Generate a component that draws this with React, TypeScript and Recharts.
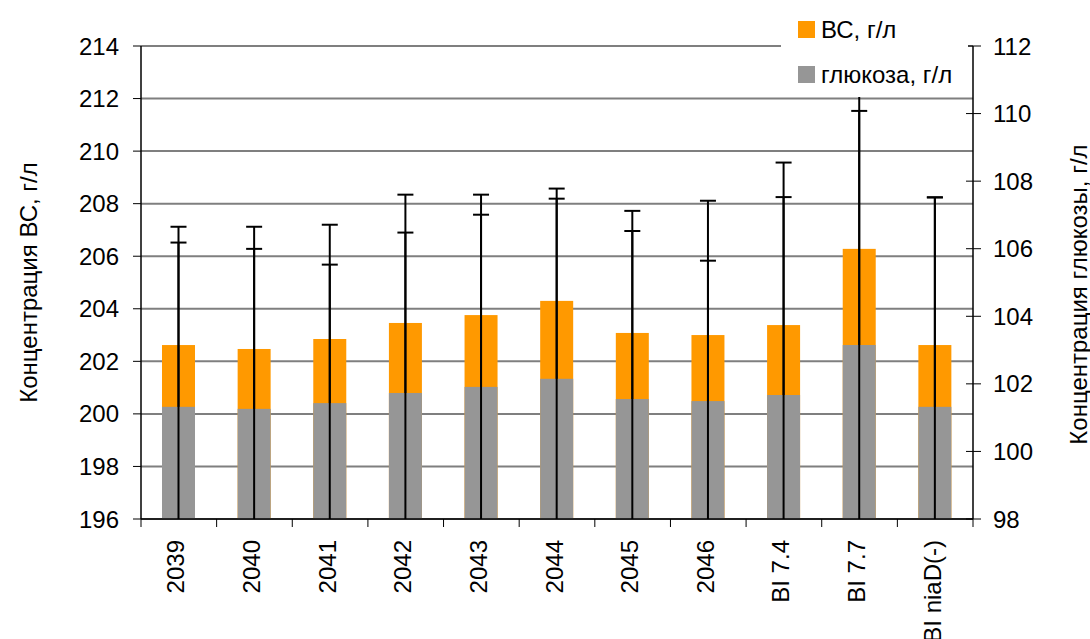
import React from 'react';
import { BarChart, Bar, XAxis, YAxis, CartesianGrid, Legend } from 'recharts';

const categories = ['2039', '2040', '2041', '2042', '2043', '2044', '2045', '2046', 'BI 7.4', 'BI 7.7', 'BI niaD(-)'];
const bcValues = [202.62, 202.47, 202.85, 203.46, 203.76, 204.3, 203.08, 203.0, 203.38, 206.28, 202.62];
const bcErrors = [3.9, 3.81, 2.83, 3.44, 3.82, 3.89, 3.88, 2.83, 4.87, 5.25, 5.62];
const glucoseValues = [101.32, 101.26, 101.43, 101.73, 101.91, 102.15, 101.55, 101.49, 101.67, 103.15, 101.32];
const glucoseErrors = [5.33, 5.39, 5.28, 5.87, 5.69, 5.63, 5.57, 5.93, 6.88, 8.35, 6.2];
const bcTicks = [196, 198, 200, 202, 204, 206, 208, 210, 212, 214];
const glucoseTicks = [98, 100, 102, 104, 106, 108, 110, 112];

const data = categories.map((name, i) => ({
  name,
  bc: bcValues[i],
  bcErr: bcErrors[i],
  glucose: glucoseValues[i],
  glucoseErr: glucoseErrors[i],
}));

const FONT = '"Liberation Sans", Arial, sans-serif';
const ORANGE = '#FF9900';
const GREY = '#969696';
const WIDTH = 1090;
const HEIGHT = 639;
const LEFT_W = 141;
const RIGHT_W = 117;
const X_AXIS_H = 120;
const AXIS_Y = HEIGHT - X_AXIS_H;
const BAND = (WIDTH - LEFT_W - RIGHT_W) / categories.length;

// Bar with its own error bar; the whisker is clipped at the plot edges and
// drawn inside the series layer, so later series cover it.
const barWithError = (valueKey: string, errKey: string, domainMin: number) => (props: any) => {
  const { x, y, width, height, fill, payload, background } = props;
  const value = payload[valueKey];
  const err = payload[errKey];
  const perUnit = height / (value - domainMin);
  const cx = x + width / 2;
  const plotTop = background ? background.y : 0;
  const plotBottom = y + height;
  const hi = y - err * perUnit;
  const lo = y + err * perUnit;
  const top = Math.max(hi, plotTop);
  const bottom = Math.min(lo, plotBottom);
  return (
    <g>
      <rect x={x} y={y} width={width} height={height} fill={fill} />
      <line x1={cx} y1={top} x2={cx} y2={bottom} stroke="#000" strokeWidth={2} />
      {hi >= plotTop && <line x1={cx - 8} y1={hi} x2={cx + 8} y2={hi} stroke="#000" strokeWidth={2} />}
      {lo <= plotBottom && <line x1={cx - 8} y1={lo} x2={cx + 8} y2={lo} stroke="#000" strokeWidth={2} />}
    </g>
  );
};

const CategoryTick = (props: any) => {
  const { x, payload, index } = props;
  const ty = AXIS_Y + 21;
  return (
    <g>
      <line x1={x - BAND / 2} y1={AXIS_Y} x2={x - BAND / 2} y2={AXIS_Y + 8} stroke="#000" />
      {index === categories.length - 1 && (
        <line x1={x + BAND / 2} y1={AXIS_Y} x2={x + BAND / 2} y2={AXIS_Y + 8} stroke="#000" />
      )}
      <text
        x={x - 3}
        y={ty}
        transform={`rotate(-90, ${x - 3}, ${ty})`}
        textAnchor="end"
        dominantBaseline="central"
        fontSize={24}
        fontFamily={FONT}
        fill="#000"
      >
        {payload.value}
      </text>
    </g>
  );
};

// right axis ticks cross the axis line, so the inner half is drawn here
const GlucoseTick = (props: any) => {
  const { x, y, payload } = props;
  const axisX = x - 20;
  return (
    <g>
      <line x1={axisX - 7} y1={y} x2={axisX} y2={y} stroke="#000" />
      <text x={x} y={y} dominantBaseline="central" fontSize={24} fontFamily={FONT} fill="#000">
        {payload.value}
      </text>
    </g>
  );
};

const AxisTitle = ({ viewBox, value, cx, shift }: any) => {
  const cy = viewBox.y + viewBox.height / 2 + shift;
  return (
    <text
      x={cx}
      y={cy}
      transform={`rotate(-90, ${cx}, ${cy})`}
      textAnchor="middle"
      dominantBaseline="central"
      fontSize={24}
      fontFamily={FONT}
      fill="#000"
    >
      {value}
    </text>
  );
};

const legendItems = [
  { label: 'ВС, г/л', color: ORANGE },
  { label: 'глюкоза, г/л', color: GREY },
];

const ChartLegend = () => (
  <div style={{ fontFamily: FONT, fontSize: 24, color: '#000', lineHeight: '24px' }}>
    {legendItems.map((item) => (
      <div key={item.label} style={{ display: 'flex', alignItems: 'center', height: 45 }}>
        <span style={{ display: 'inline-block', width: 17, height: 17, background: item.color, marginLeft: 17, marginRight: 6 }} />
        <span>{item.label}</span>
      </div>
    ))}
  </div>
);

export default function App() {
  return (
    <div style={{ position: 'absolute', left: 0, top: 0, width: WIDTH, height: HEIGHT, background: '#fff' }}>
      <BarChart width={WIDTH} height={HEIGHT} data={data} margin={{ top: 46, right: 0, bottom: 0, left: 0 }}>
        <CartesianGrid xAxisId="main" yAxisId="bc" vertical={false} stroke="#7f7f7f" strokeWidth={2} />
        <XAxis
          xAxisId="main"
          dataKey="name"
          height={X_AXIS_H}
          interval={0}
          tickLine={false}
          tickSize={0}
          tickMargin={0}
          axisLine={{ stroke: '#000', strokeWidth: 1.5 }}
          tick={<CategoryTick />}
        />
        <XAxis xAxisId="back" dataKey="name" height={0} hide />
        <YAxis
          yAxisId="bc"
          width={LEFT_W}
          domain={[196, 214]}
          ticks={bcTicks}
          allowDataOverflow
          interval={0}
          tickSize={8}
          tickMargin={14}
          axisLine={{ stroke: '#000', strokeWidth: 1.5 }}
          tickLine={{ stroke: '#000' }}
          tick={{ fill: '#000', fontSize: 24, fontFamily: FONT }}
          label={<AxisTitle value="Концентрация ВС, г/л" cx={28} shift={0} />}
        />
        <YAxis
          yAxisId="glucose"
          orientation="right"
          width={RIGHT_W}
          domain={[98, 112]}
          ticks={glucoseTicks}
          allowDataOverflow
          interval={0}
          tickSize={8}
          tickMargin={12}
          axisLine={{ stroke: '#000', strokeWidth: 1.5 }}
          tickLine={{ stroke: '#000' }}
          tick={<GlucoseTick />}
          label={<AxisTitle value="Концентрация глюкозы, г/л" cx={1078} shift={12} />}
        />
        <Bar
          xAxisId="back"
          yAxisId="bc"
          dataKey="bc"
          name="ВС, г/л"
          fill={ORANGE}
          barSize={33}
          isAnimationActive={false}
          shape={barWithError('bc', 'bcErr', 196)}
        />
        <Bar
          xAxisId="main"
          yAxisId="glucose"
          dataKey="glucose"
          name="глюкоза, г/л"
          fill={GREY}
          barSize={33}
          isAnimationActive={false}
          shape={barWithError('glucose', 'glucoseErr', 98)}
        />
        <Legend
          layout="vertical"
          align="center"
          verticalAlign="middle"
          content={<ChartLegend />}
          wrapperStyle={{ left: 781, top: 0, width: 187, height: 97, background: '#fff', paddingTop: 7, boxSizing: 'border-box' }}
        />
      </BarChart>
    </div>
  );
}
